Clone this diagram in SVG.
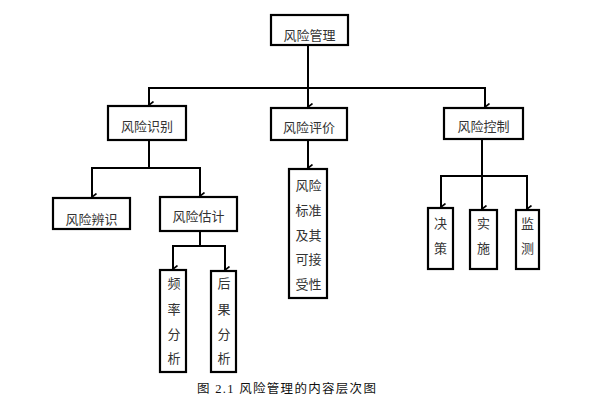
<svg xmlns="http://www.w3.org/2000/svg" width="601" height="405" viewBox="0 0 601 405">
<style>
.box{fill:#fff;stroke:#000;stroke-width:2.2}
.t{font-family:"Noto Sans CJK SC","Noto Sans CJK JP",sans-serif;font-size:13px;fill:#333;text-anchor:middle}
.c{fill:none;stroke:#000;stroke-width:2}
.cap{font-family:"Liberation Serif","Noto Sans CJK SC",serif;font-size:12.5px;fill:#111;letter-spacing:1.3px}
</style>
<defs>
<marker id="ar" markerWidth="8" markerHeight="8" refX="4" refY="6" orient="auto-start-reverse" markerUnits="userSpaceOnUse" viewBox="0 0 8 8">
<polyline points="0.5,1.5 4,6 7.5,1.5" fill="none" stroke="#000" stroke-width="1.6"/>
</marker>
</defs>
<rect width="601" height="405" fill="#fff"/>
<g id="connectors">
<line class="c" x1="308" y1="45" x2="308" y2="107" marker-end="url(#ar)"/>
<polyline class="c" points="149,105 149,88 485,88 485,107" />
<line class="c" x1="149" y1="98" x2="149" y2="105" marker-end="url(#ar)"/>
<line class="c" x1="485" y1="100" x2="485" y2="107" marker-end="url(#ar)"/>
<line class="c" x1="149" y1="140" x2="149" y2="168"/>
<polyline class="c" points="92,197 92,168 200,168 200,196"/>
<line class="c" x1="92" y1="190" x2="92" y2="197" marker-end="url(#ar)"/>
<line class="c" x1="200" y1="189" x2="200" y2="196" marker-end="url(#ar)"/>
<line class="c" x1="200" y1="231" x2="200" y2="246"/>
<polyline class="c" points="173,269 173,246 225,246 225,270"/>
<line class="c" x1="173" y1="262" x2="173" y2="269" marker-end="url(#ar)"/>
<line class="c" x1="225" y1="263" x2="225" y2="270" marker-end="url(#ar)"/>
<line class="c" x1="308" y1="140" x2="308" y2="168" marker-end="url(#ar)"/>
<line class="c" x1="482" y1="139" x2="482" y2="209" marker-end="url(#ar)"/>
<polyline class="c" points="441,207 441,176 527,176 527,209"/>
<line class="c" x1="441" y1="200" x2="441" y2="207" marker-end="url(#ar)"/>
<line class="c" x1="527" y1="202" x2="527" y2="209" marker-end="url(#ar)"/>
</g>
<g id="n-root"><rect class="box" x="271" y="15" width="77" height="30"/><text class="t" x="309.5" y="40">风险管理</text></g>
<g id="n-identify"><rect class="box" x="108" y="106" width="78" height="34"/><text class="t" x="147" y="131">风险识别</text></g>
<g id="n-evaluate"><rect class="box" x="271" y="108" width="76" height="32"/><text class="t" x="309" y="132">风险评价</text></g>
<g id="n-control"><rect class="box" x="444" y="108" width="79" height="31"/><text class="t" x="483.5" y="131">风险控制</text></g>
<g id="n-distinguish"><rect class="box" x="53" y="198" width="77" height="31"/><text class="t" x="91.5" y="223.5">风险辨识</text></g>
<g id="n-estimate"><rect class="box" x="160" y="197" width="77" height="34"/><text class="t" x="198.5" y="221">风险估计</text></g>
<g id="n-frequency"><rect class="box" x="160" y="270" width="26" height="102"/>
<text class="t" x="174" y="287.5">频</text><text class="t" x="174" y="314">率</text><text class="t" x="174" y="339">分</text><text class="t" x="174" y="362.5">析</text></g>
<g id="n-consequence"><rect class="box" x="211" y="271" width="25" height="101"/>
<text class="t" x="224" y="287.5">后</text><text class="t" x="224" y="314">果</text><text class="t" x="224" y="339">分</text><text class="t" x="224" y="362.5">析</text></g>
<g id="n-standard"><rect class="box" x="289" y="169" width="38" height="129"/>
<text class="t" x="308.5" y="189.5">风险</text><text class="t" x="308.5" y="214.5">标准</text><text class="t" x="308.5" y="239.5">及其</text><text class="t" x="308.5" y="263.5">可接</text><text class="t" x="308.5" y="288.5">受性</text></g>
<g id="n-decision"><rect class="box" x="428" y="208" width="25" height="61"/>
<text class="t" x="440.5" y="227.5">决</text><text class="t" x="440.5" y="252.5">策</text></g>
<g id="n-implement"><rect class="box" x="470" y="210" width="27" height="59"/>
<text class="t" x="483.5" y="227.5">实</text><text class="t" x="483.5" y="252.5">施</text></g>
<g id="n-monitor"><rect class="box" x="516" y="210" width="23" height="59"/>
<text class="t" x="527.5" y="227.5">监</text><text class="t" x="527.5" y="252.5">测</text></g>
<text class="cap" x="197" y="393">图 2.1 风险管理的内容层次图</text>
</svg>
